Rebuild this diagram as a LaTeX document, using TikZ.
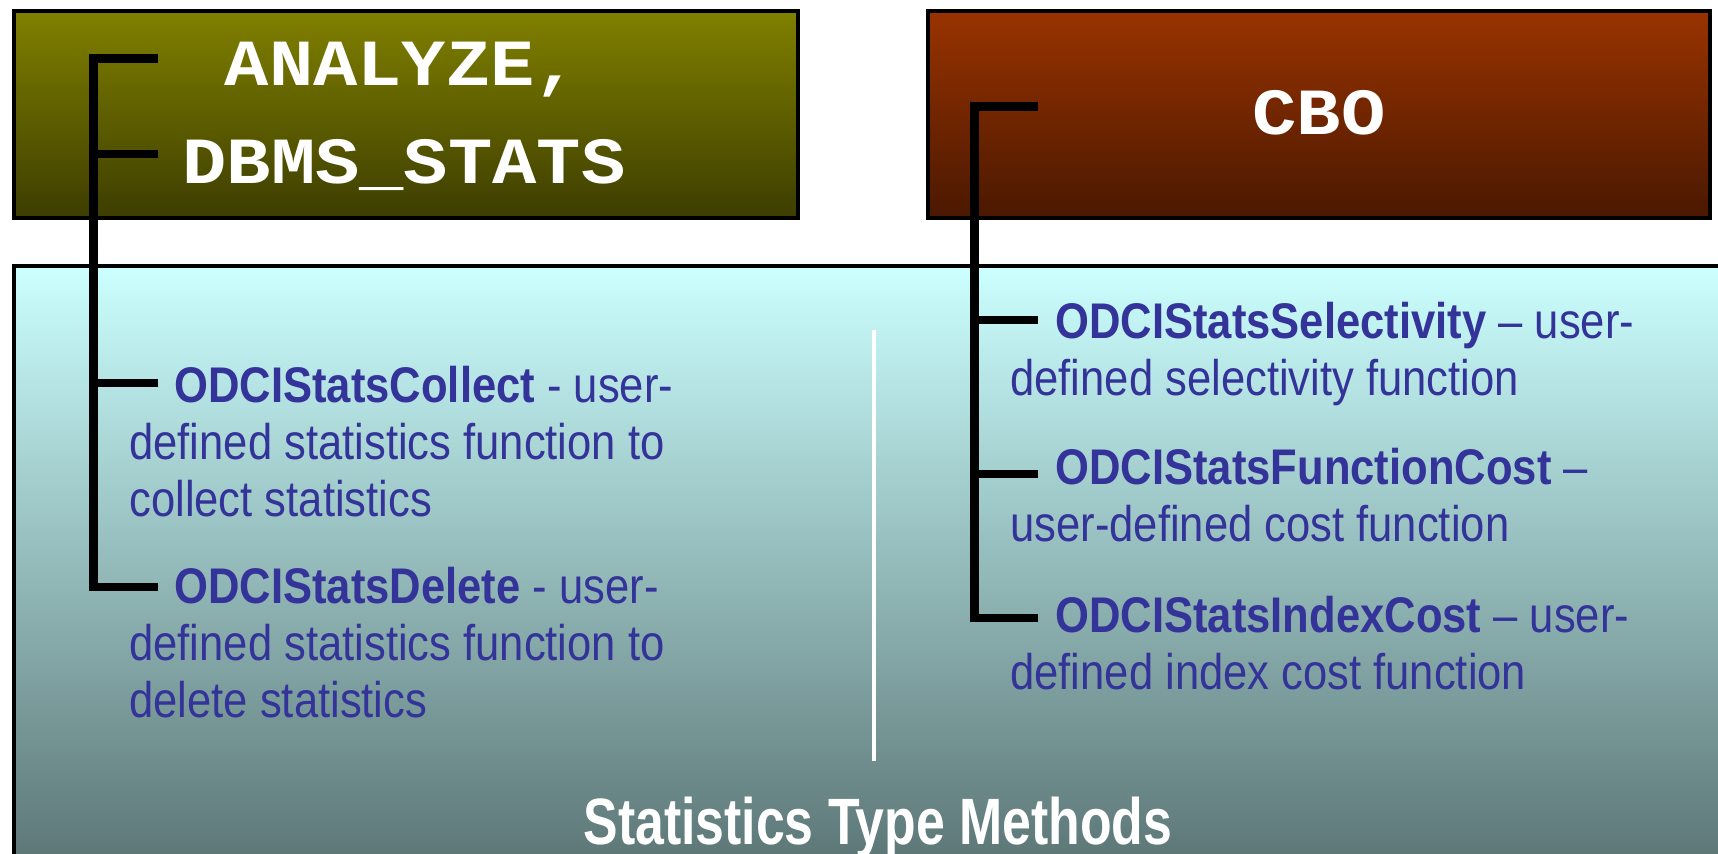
\documentclass[tikz,border=0pt]{standalone}
\usepackage{fontspec}
\setmainfont[FakeStretch=0.87]{Liberation Sans}
\newfontfamily\titlefont[FakeStretch=0.79]{Liberation Sans}
\newfontfamily\codefont[FakeStretch=1.12]{Liberation Mono}
\definecolor{olivetop}{HTML}{808000}
\definecolor{olivebot}{HTML}{3D3D00}
\definecolor{rusttop}{HTML}{993300}
\definecolor{rustbot}{HTML}{4A1800}
\definecolor{icetop}{HTML}{CCFFFF}
\definecolor{icebot}{HTML}{5E7878}
\definecolor{itemblue}{HTML}{333399}
\newcommand{\methodlines}[1]{\begin{tabular}[t]{@{}l@{}}#1\end{tabular}}
\tikzset{
  panel/.style={draw=black, line width=2.3pt},
  bracket/.style={line width=5.1pt},
  codetext/.style={text=white, font=\codefont\bfseries\fontsize{37.5}{40}\selectfont, inner sep=0pt, anchor=base},
  itemtext/.style={text=itemblue, font=\fontsize{28.5}{32.6}\selectfont, inner sep=0pt, anchor=base west},
}

\begin{document}
\begin{tikzpicture}[x=0.2mm,y=-0.2mm]
\useasboundingbox (0,0) rectangle (1718,854);
\shade[top color=icetop, bottom color=icebot] (14,266) rectangle (1718,854);
\draw[panel] (1718,266) -- (14,266) -- (14,854);
\draw[panel, top color=olivetop, bottom color=olivebot] (14,11) rectangle (798,218);
\draw[panel, top color=rusttop, bottom color=rustbot] (928,11) rectangle (1710,218);
\draw[white, line width=2.3pt] (874,330) -- (874,761);
\node[codetext] (analyze) at (402,85) {ANALYZE,};
\node[codetext] (dbms) at (404,183) {DBMS\_STATS};
\node[codetext] (cbo) at (1319,134) {CBO};
\node[itemtext] (collect) at (129,402) {\methodlines{\hspace*{25.6pt}\textbf{ODCIStatsCollect} - user-\\defined statistics function to\\collect statistics}};
\node[itemtext] (delete) at (129,603) {\methodlines{\hspace*{25.6pt}\textbf{ODCIStatsDelete} - user-\\defined statistics function to\\delete statistics}};
\node[itemtext] (selectivity) at (1010,338) {\methodlines{\hspace*{25.6pt}\textbf{ODCIStatsSelectivity} -- user-\\defined selectivity function}};
\node[itemtext] (funccost) at (1010,484) {\methodlines{\hspace*{25.6pt}\textbf{ODCIStatsFunctionCost} --\\user-defined cost function}};
\node[itemtext] (indexcost) at (1010,632) {\methodlines{\hspace*{25.6pt}\textbf{ODCIStatsIndexCost} -- user-\\defined index cost function}};
\node[text=white, font=\titlefont\bfseries\fontsize{37.3}{40}\selectfont, inner sep=0pt, anchor=base] (title) at (878,844) {Statistics Type Methods};
\coordinate (lspine) at (93.5,0);
\coordinate (rspine) at (974.5,0);
\coordinate (ana) at (158,58.5);
\coordinate (dbs) at (158,154);
\coordinate (col) at (158,383);
\coordinate (del) at (158,587);
\coordinate (cb) at (1038,106.5);
\coordinate (sel) at (1038,320);
\coordinate (fun) at (1038,474);
\coordinate (idx) at (1038,618);
\draw[bracket] (ana) -- (ana -| lspine) -- (del -| lspine) -- (del);
\draw[bracket] (dbs) -- (dbs -| lspine);
\draw[bracket] (col) -- (col -| lspine);
\draw[bracket] (cb) -- (cb -| rspine) -- (idx -| rspine) -- (idx);
\draw[bracket] (sel) -- (sel -| rspine);
\draw[bracket] (fun) -- (fun -| rspine);
\end{tikzpicture}
\end{document}
